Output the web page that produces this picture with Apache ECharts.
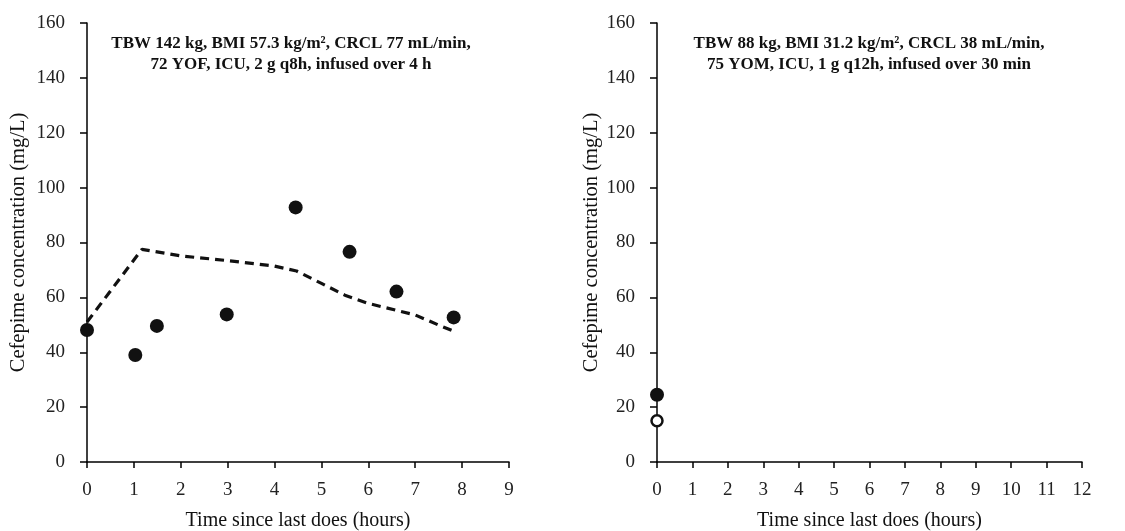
<!DOCTYPE html>
<html>
<head>
<meta charset="utf-8">
<script src="https://cdn.jsdelivr.net/npm/echarts@6/dist/echarts.min.js"></script>
<style>
html,body{margin:0;padding:0;background:#fff;}
#chart{width:1125px;height:531px;}
</style>
</head>
<body>
<div id="chart"></div>
<script>
// Left panel data
const leftObsX = [0, 1.03, 1.49, 2.98, 4.45, 5.6, 6.6, 7.82];
const leftObsY = [48.1, 39, 49.6, 53.8, 92.8, 76.6, 62.1, 52.7];
const leftPredX = [0, 1.17, 2, 3, 4, 4.47, 5, 5.5, 6, 7, 7.5, 7.85];
const leftPredY = [51, 77.5, 75.1, 73.4, 71.4, 69.6, 65.1, 60.8, 57.8, 53.6, 49.9, 47.5];
// Right panel data
const rightFilledX = [0];
const rightFilledY = [24.5];
const rightOpenX = [0];
const rightOpenY = [15];

const leftTitle = 'TBW 142 kg, BMI 57.3 kg/m², CRCL 77 mL/min,\n72 YOF, ICU, 2 g q8h, infused over 4 h';
const rightTitle = 'TBW 88 kg, BMI 31.2 kg/m², CRCL 38 mL/min,\n75 YOM, ICU, 1 g q12h, infused over 30 min';
const yName = 'Cefepime concentration (mg/L)';
const xName = 'Time since last does (hours)';

const zip = (xs, ys) => xs.map((x, i) => [x, ys[i]]);
const FONT = "'Liberation Serif', 'Times New Roman', serif";

function xAxis(idx, max) {
  return {
    gridIndex: idx, type: 'value', min: 0, max: max, interval: 1,
    name: xName, nameLocation: 'middle', nameGap: 49,
    nameTextStyle: {fontFamily: FONT, fontSize: 20, color: '#111'},
    axisLine: {show: true, onZero: false, lineStyle: {color: '#000', width: 1.5}},
    axisTick: {show: true, inside: false, length: 6, lineStyle: {color: '#000', width: 1.5}},
    axisLabel: {fontFamily: FONT, fontSize: 19, color: '#222', margin: 19},
    splitLine: {show: false}
  };
}
function yAxis(idx, gap) {
  return {
    gridIndex: idx, type: 'value', min: 0, max: 160, interval: 20,
    name: yName, nameLocation: 'middle', nameGap: gap,
    nameTextStyle: {fontFamily: FONT, fontSize: 20.5, color: '#111'},
    axisLine: {show: true, onZero: false, lineStyle: {color: '#000', width: 1.5}},
    axisTick: {show: true, inside: false, length: 7, lineStyle: {color: '#000', width: 1.5}},
    axisLabel: {fontFamily: FONT, fontSize: 19, color: '#222', margin: 22},
    splitLine: {show: false}
  };
}

const chart = echarts.init(document.getElementById('chart'), null, {renderer: 'canvas'});
chart.setOption({
  backgroundColor: '#fff',
  animation: false,
  title: [
    {text: leftTitle, left: 286, top: 28, textAlign: 'center',
     textStyle: {fontFamily: FONT, fontSize: 17, fontWeight: 'bold', color: '#111', lineHeight: 21, align: 'center'}},
    {text: rightTitle, left: 864, top: 28, textAlign: 'center',
     textStyle: {fontFamily: FONT, fontSize: 17, fontWeight: 'bold', color: '#111', lineHeight: 21, align: 'center'}}
  ],
  grid: [
    {left: 87, top: 23, width: 422, height: 439, containLabel: false, outerBoundsMode: 'none'},
    {left: 657, top: 23, width: 425, height: 439, containLabel: false, outerBoundsMode: 'none'}
  ],
  xAxis: [xAxis(0, 9), xAxis(1, 12)],
  yAxis: [yAxis(0, 58), yAxis(1, 55)],
  series: [
    {type: 'line', xAxisIndex: 0, yAxisIndex: 0, data: zip(leftPredX, leftPredY),
     showSymbol: false, lineStyle: {color: '#111', width: 3.2, type: [9, 6]}, z: 2},
    {type: 'scatter', xAxisIndex: 0, yAxisIndex: 0, data: zip(leftObsX, leftObsY),
     symbol: 'circle', symbolSize: 14, itemStyle: {color: '#111', opacity: 1}, z: 3},
    {type: 'scatter', xAxisIndex: 1, yAxisIndex: 1, data: zip(rightFilledX, rightFilledY),
     symbol: 'circle', symbolSize: 14, itemStyle: {color: '#111', opacity: 1}, z: 3},
    {type: 'scatter', xAxisIndex: 1, yAxisIndex: 1, data: zip(rightOpenX, rightOpenY),
     symbol: 'circle', symbolSize: 11, itemStyle: {color: '#fff', borderColor: '#111', borderWidth: 2.5, opacity: 1}, z: 3}
  ]
});
</script>
</body>
</html>
